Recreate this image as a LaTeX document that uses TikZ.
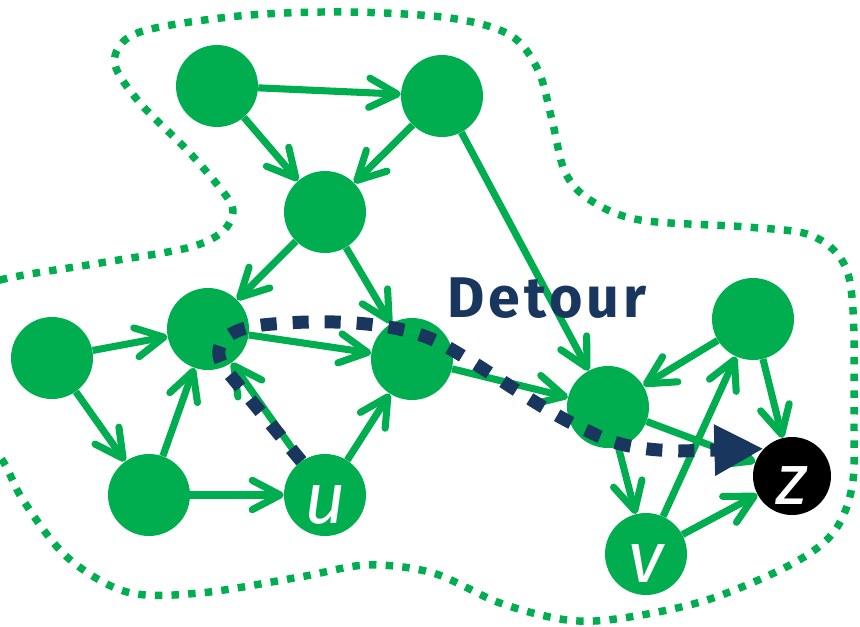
\documentclass[tikz,border=0pt]{standalone}
\usepackage{fontspec}
\usetikzlibrary{arrows.meta}
\newfontfamily\detfont{Fira Sans}[LetterSpace=7]
\newfontfamily\lblfont{Fira Sans}
\definecolor{gr}{RGB}{0,173,79}
\definecolor{navy}{RGB}{24,54,94}
\begin{document}
\begin{tikzpicture}[x=0.75pt,y=-0.75pt,
  vert/.style={circle, fill=gr, minimum size=61.5pt, inner sep=0pt},
  term/.style={circle, fill=black, minimum size=58.5pt, inner sep=0pt},
  lbl/.style={text=white, font=\lblfont\itshape\fontsize{54}{54}\selectfont, text height=42pt, text depth=0pt},
  edge/.style={draw=gr, line width=5.3pt, -{Straight Barb[length=21pt,width=22pt,round]}},
  region/.style={draw=gr, line width=5.6pt, dash pattern=on 5.6pt off 6.9pt},
  detour/.style={draw=navy, line width=9.75pt, dash pattern=on 12pt off 12pt, -{Triangle[length=37pt,width=36pt]}}
]
\useasboundingbox (0,0) rectangle (860,626);
\clip (0,0) rectangle (860,626);

% dotted region boundary
\draw[region] plot[smooth cycle, tension=0.55] coordinates {
  (-40,300) (0,280) (100,263) (187,248) (222,232) (233,210) (220,188)
  (187,150) (140,103) (115,65) (125,40) (160,27) (250,15) (350,12)
  (450,18) (510,35) (538,70) (552,120) (565,172) (590,200) (640,220)
  (747,227) (810,235) (843,262) (853,310) (854,420) (852,487) (833,533)
  (790,565) (707,600) (623,618) (567,620) (500,603) (433,573) (367,565)
  (300,577) (200,593) (127,592) (67,557) (23,500) (0,457) (-40,420)};

% vertices
\node[vert] (a) at (217,86) {};
\node[vert] (b) at (442,96) {};
\node[vert] (c) at (325,212) {};
\node[vert] (d) at (208,329) {};
\node[vert] (e) at (52,358) {};
\node[vert] (f) at (412,359) {};
\node[vert] (g) at (149,495) {};
\node[vert, lbl] (u) at (325,495) {u};
\node[vert] (h) at (608,407) {};
\node[vert] (i) at (753,319) {};
\node[vert, lbl] (v) at (646,554) {v};
\node[term, lbl] (z) at (792,476) {z};

% directed edges
\draw[edge] (a) -- (b);
\draw[edge] (a) -- (c);
\draw[edge] (b) -- (c);
\draw[edge] (b) -- (h);
\draw[edge] (c) -- (d);
\draw[edge] (c) -- (f);
\draw[edge] (d) -- (f);
\draw[edge] (e) -- (d);
\draw[edge] (e) -- (g);
\draw[edge] (g) -- (d);
\draw[edge] (g) -- (u);
\draw[edge] (u) -- (d);
\draw[edge] (u) -- (f);
\draw[edge] (f) -- (h);
\draw[edge] (h) -- (z);
\draw[edge] (h) -- (v);
\draw[edge] (i) -- (h);
\draw[edge] (i) -- (z);
\draw[edge] (v) -- (i);
\draw[edge] (v) -- (z);

% the detour from u to z
\draw[detour] (u.125) -- (226,370)
  .. controls (210,350) and (220,330) .. (262,325)
  .. controls (330,318) and (400,322) .. (440,343)
  .. controls (490,370) and (540,410) .. (590,432)
  .. controls (615,445) and (640,450) .. (680,451)
  -- (z.136);

\node[anchor=base west, inner sep=0pt, text=navy,
  font=\detfont\bfseries\fontsize{43}{43}\selectfont] (lab) at (447,317) {Detour};
\end{tikzpicture}
\end{document}
